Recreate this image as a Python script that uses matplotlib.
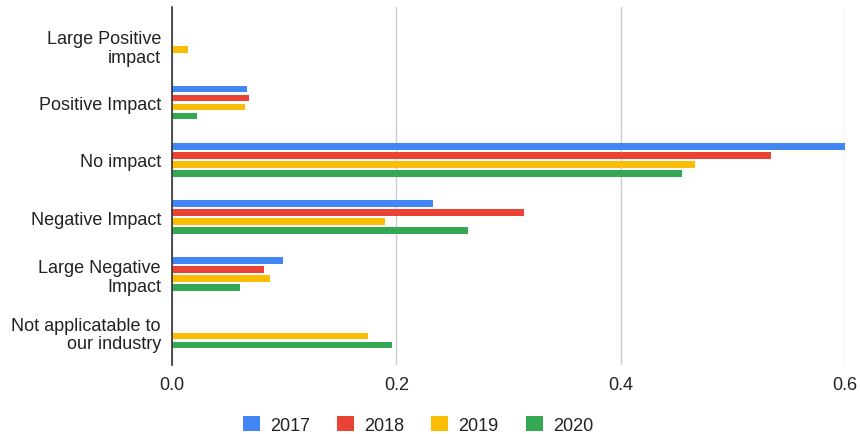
import matplotlib.pyplot as plt
import numpy as np

# data
categories = ['Large Positive\nimpact', 'Positive Impact', 'No impact',
              'Negative Impact', 'Large Negative\nImpact',
              'Not applicatable to\nour industry']
years = ['2017', '2018', '2019', '2020']
v2017 = [0.0, 0.067, 0.600, 0.233, 0.099, 0.0]
v2018 = [0.0, 0.069, 0.534, 0.314, 0.082, 0.0]
v2019 = [0.014, 0.065, 0.466, 0.190, 0.087, 0.175]
v2020 = [0.0, 0.022, 0.455, 0.264, 0.061, 0.196]
series = [v2017, v2018, v2019, v2020]
colors = ['#4285F4', '#EA4335', '#FBBC04', '#34A853']

plt.rcParams['font.family'] = ['Liberation Sans', 'DejaVu Sans']

fig = plt.figure(figsize=(8.6, 4.35), dpi=100)
ax = fig.add_axes([0.2, 0.1586, 0.7826, 0.823])

y = np.arange(len(categories))
step = 0.157
for i, (vals, c, yr) in enumerate(zip(series, colors, years)):
    ax.barh(y + (i - 1.5) * step, vals, height=0.12, color=c, label=yr, zorder=3)

ax.set_ylim(5.585, -0.668)
ax.set_xlim(0, 0.6)
ax.set_xticks([0, 0.2, 0.4, 0.6])
ax.set_xticklabels(['0.0', '0.2', '0.4', '0.6'])
ax.set_yticks(y)
ax.set_yticklabels(categories, ha='right', multialignment='right', linespacing=1.1)
ax.tick_params(axis='both', length=0, labelsize=13, colors='#222222')
ax.tick_params(axis='y', pad=8)
ax.tick_params(axis='x', pad=8)
ax.grid(axis='x', color='#cccccc', linewidth=1, zorder=0)
for s in ['top', 'right', 'bottom']:
    ax.spines[s].set_visible(False)
ax.spines['left'].set_color('#333333')
ax.spines['left'].set_linewidth(1.2)
ax.spines['left'].set_zorder(4)

fig.legend(loc='lower center', bbox_to_anchor=(0.486, -0.037), ncol=4,
           frameon=False, fontsize=13, handlelength=0.95, handleheight=0.95,
           handletextpad=0.55, columnspacing=1.5, labelcolor='#222222')

plt.savefig('out.png', dpi=100)
